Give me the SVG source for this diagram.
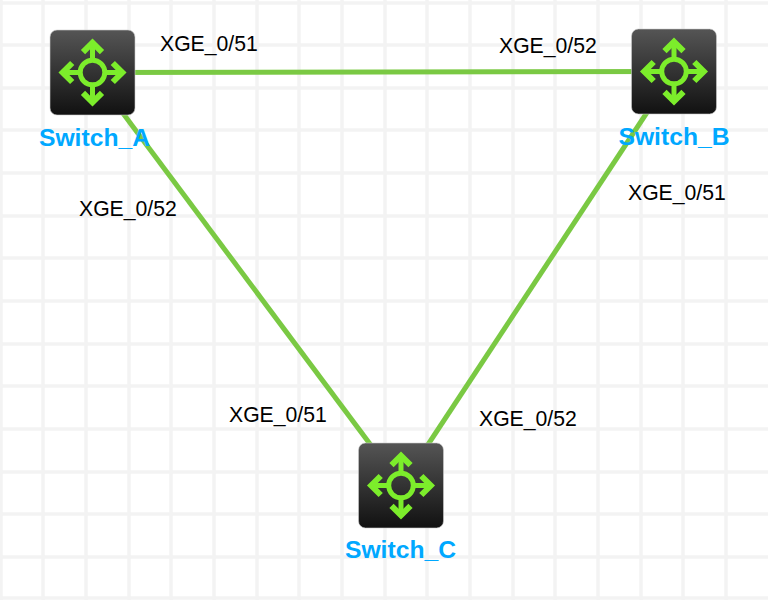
<svg xmlns="http://www.w3.org/2000/svg" xmlns:xlink="http://www.w3.org/1999/xlink" width="768" height="600" viewBox="0 0 768 600">
  <style>
    .grid { stroke: #f3f3f3; stroke-width: 3.4; fill: none; }
    .link { stroke: #7ac943; stroke-width: 5; fill: none; }
    .port { font: 21.2px "Liberation Sans", Arial, sans-serif; fill: #000; }
    .name { font: bold 24.7px "Liberation Sans", Arial, sans-serif; fill: #00a8ff; text-anchor: middle; }
    .glyph { stroke: #7ced2b; fill: none; }
  </style>
  <defs>
    <linearGradient id="body" x1="0" y1="0" x2="0" y2="1">
      <stop offset="0" stop-color="#555555"/>
      <stop offset="1" stop-color="#111111"/>
    </linearGradient>
    <!-- Router icon, centred on the origin -->
    <g id="router">
      <rect x="-42.5" y="-42.5" width="85" height="85" rx="7" fill="url(#body)" stroke="#cccccc" stroke-width="0.6"/>
      <g class="glyph">
        <circle r="12.3" stroke-width="5"/>
        <path stroke-width="5" d="M0-13V-29M0 13V29M-13 0H-29M13 0H29"/>
        <path stroke-width="6" d="M-9.5-20.3L0-29.8L9.5-20.3M-9.5 20.3L0 29.8L9.5 20.3M-20.3-9.5L-29.8 0L-20.3 9.5M20.3-9.5L29.8 0L20.3 9.5"/>
      </g>
    </g>
  </defs>

  <rect width="768" height="600" fill="#ffffff"/>

  <!-- Background grid -->
  <g id="grid" class="grid">
    <path d="M0 3H768M0 45H768M0 88H768M0 130H768M0 173H768M0 216H768M0 258H768M0 301H768M0 344H768M0 386H768M0 429H768M0 472H768M0 514H768M0 557H768M0 598H768"/>
    <path d="M1 0V600M43 0V600M86 0V600M129 0V600M171 0V600M214 0V600M257 0V600M299 0V600M342 0V600M385 0V600M427 0V600M470 0V600M513 0V600M555 0V600M598 0V600M641 0V600M683 0V600M726 0V600"/>
  </g>

  <!-- Links between switches -->
  <g id="connectors" class="link">
    <path id="link-a-b" d="M92.5 72.5L674 71.5"/>
    <path id="link-a-c" d="M92.5 72.5L401 485.5"/>
    <path id="link-b-c" d="M674 71.5L401 485.5"/>
  </g>

  <g id="switch-a">
    <use xlink:href="#router" href="#router" x="92.5" y="72.5"/>
    <text class="name" x="94.5" y="146">Switch_A</text>
  </g>
  <g id="switch-b">
    <use xlink:href="#router" href="#router" x="674" y="71.5"/>
    <text class="name" x="674" y="145">Switch_B</text>
  </g>
  <g id="switch-c">
    <use xlink:href="#router" href="#router" x="401" y="485.5"/>
    <text class="name" x="400.5" y="558">Switch_C</text>
  </g>

  <!-- Port labels -->
  <g id="port-labels" class="port">
    <text x="160" y="51">XGE_0/51</text>
    <text x="499" y="53">XGE_0/52</text>
    <text x="79" y="216">XGE_0/52</text>
    <text x="628" y="200">XGE_0/51</text>
    <text x="229" y="422">XGE_0/51</text>
    <text x="479" y="426">XGE_0/52</text>
  </g>
</svg>
